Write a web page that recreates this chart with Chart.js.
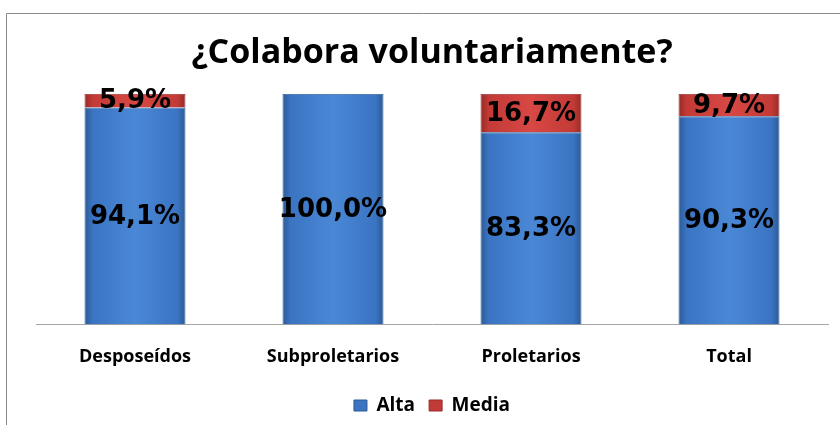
<!DOCTYPE html>
<html>
<head>
<meta charset="utf-8">
<script src="https://cdn.jsdelivr.net/npm/chart.js@4"></script>
<style>
    html, body {margin: 0; padding: 0; background: #fff;}
    #wrap {width: 840px; height: 425px; position: relative;}
</style>
</head>
<body>
<div id="wrap"><canvas id="chart"></canvas></div>
<script>
const categories = ['Desposeídos', 'Subproletarios', 'Proletarios', 'Total'];
const alta = [94.1, 100.0, 83.3, 90.3];
const media = [5.9, 0, 16.7, 9.7];

const fmt = v => v.toFixed(1).replace('.', ',') + '%';
const BAR_PCT = 0.51;

function shade(ctx, dark, mid, light) {
    const chart = ctx.chart;
    const area = chart.chartArea;
    const xs = chart.scales.x;
    if (!area || !xs) {
        return mid;
    }
    const cx = xs.getPixelForValue(ctx.dataIndex);
    const w = (area.width / categories.length) * BAR_PCT;
    const x0 = cx - w / 2;
    const g = chart.ctx.createLinearGradient(x0, 0, x0 + w, 0);
    g.addColorStop(0, dark);
    g.addColorStop(0.08, mid);
    g.addColorStop(0.5, light);
    g.addColorStop(0.92, mid);
    g.addColorStop(1, dark);
    return g;
}

const frame = {
    id: 'frame',
    beforeDraw(chart) {
        const c = chart.ctx;
        c.save();
        c.strokeStyle = '#8c8c8c';
        c.lineWidth = 1;
        c.beginPath();
        c.moveTo(6.5, 425);
        c.lineTo(6.5, 13.5);
        c.lineTo(840, 13.5);
        c.stroke();
        c.restore();
    }
};

const labelsPlugin = {
    id: 'barLabels',
    afterDatasetsDraw(chart) {
        const c = chart.ctx;
        c.save();
        c.font = 'bold 26px "DejaVu Sans"';
        c.fillStyle = '#000';
        c.textAlign = 'center';
        c.textBaseline = 'middle';
        chart.data.datasets.forEach((ds, i) => {
            chart.getDatasetMeta(i).data.forEach((bar, j) => {
                const v = ds.data[j];
                if (!v) {
                    return;
                }
                const y = (bar.y + bar.base) / 2;
                c.fillText(fmt(v), bar.x, y + 1);
            });
        });
        c.restore();
    }
};

new Chart(document.getElementById('chart'), {
    type: 'bar',
    data: {
        labels: categories,
        datasets: [{
            label: 'Alta',
            data: alta,
            backgroundColor: ctx => shade(ctx, '#2c5a96', '#3a74c2', '#4a88d6'),
            borderColor: '#2d5a94',
            borderWidth: 1,
            categoryPercentage: 1,
            barPercentage: BAR_PCT
        }, {
            label: 'Media',
            data: media,
            backgroundColor: ctx => shade(ctx, '#962a27', '#c23a36', '#d84844'),
            borderColor: '#9a2d2a',
            borderWidth: 1,
            categoryPercentage: 1,
            barPercentage: BAR_PCT
        }]
    },
    options: {
        responsive: true,
        maintainAspectRatio: false,
        animation: false,
        layout: {padding: {left: 36, right: 12, top: 0, bottom: 0}},
        plugins: {
            title: {
                display: true,
                text: '¿Colabora voluntariamente?',
                font: {family: '"Open Sans"', size: 34, weight: 'bold'},
                color: '#000',
                padding: {top: 33, bottom: 20}
            },
            legend: {
                position: 'bottom',
                labels: {
                    font: {family: '"Open Sans"', size: 19, weight: 'bold'},
                    color: '#000',
                    boxWidth: 13,
                    boxHeight: 11,
                    padding: 14,
                    generateLabels: chart => chart.data.datasets.map((ds, i) => ({
                        text: ds.label,
                        fillStyle: i === 0 ? '#3a74c2' : '#c23a36',
                        strokeStyle: i === 0 ? '#2d5a94' : '#9a2d2a',
                        lineWidth: 1,
                        datasetIndex: i
                    }))
                }
            },
            tooltip: {enabled: false}
        },
        scales: {
            x: {
                stacked: true,
                grid: {display: false},
                border: {display: true, color: '#a6a6a6'},
                ticks: {
                    font: {family: '"Open Sans"', size: 18, weight: 'bold'},
                    color: '#000',
                    padding: 14
                }
            },
            y: {
                stacked: true,
                display: false,
                min: 0,
                max: 100
            }
        }
    },
    plugins: [frame, labelsPlugin]
});
</script>
</body>
</html>
